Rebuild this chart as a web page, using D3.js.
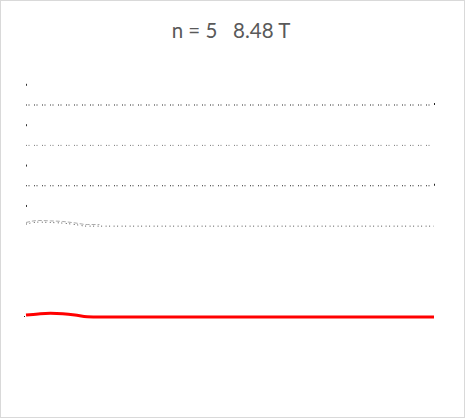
<!DOCTYPE html>
<html><head><meta charset="utf-8">
<script src="https://cdn.jsdelivr.net/npm/d3@7"></script>
<style>html,body{margin:0;padding:0;background:#fff}svg{display:block}</style>
</head><body>
<script>
// ---- data ----
const titleText = "n = 5   8.48 T";
const xValues = [0, 3, 6, 9, 12, 15, 18, 21, 24, 30, 40, 50, 60, 70, 80, 90, 100];
const redValues = [0.10, 0.15, 0.18, 0.16, 0.10, 0.01, 0, 0, 0, 0, 0, 0, 0, 0, 0, 0, 0];
const greyValues = [4.60, 4.70, 4.68, 4.65, 4.58, 4.50, 4.50, 4.50, 4.50, 4.50, 4.50, 4.50, 4.50, 4.50, 4.50, 4.50, 4.50];
const dottedLevels = [6.5, 8.5, 10.5];
const dottedColors = ["#222", "#777", "#222"];
const singleMarks = [5.5, 7.5, 9.5, 11.5];
const endMarks = [6.5, 10.5];

const W = 465, H = 418;
const svg = d3.select("body").append("svg").attr("width", W).attr("height", H);
svg.append("rect").attr("x", 0.5).attr("y", 0.5).attr("width", W - 1).attr("height", H - 1)
  .attr("fill", "#fff").attr("stroke", "#d9d9d9");

svg.append("text").attr("x", 231).attr("y", 38).attr("text-anchor", "middle")
  .style("white-space", "pre").attr("font-family", "Lato, 'Open Sans', sans-serif")
  .attr("font-size", 20.5).attr("fill", "#595959").text(titleText);

const x = d3.scaleLinear().domain([0, 100]).range([26, 434]);
const y = d3.scaleLinear().domain([0, 10.5]).range([317, 105]);

const line = d3.line().x(d => x(d[0])).y(d => y(d[1])).curve(d3.curveMonotoneX);

// dotted horizontal series
dottedLevels.forEach((v, i) => {
  svg.append("path").attr("d", line(xValues.map(xv => [xv, v])))
    .attr("fill", "none").attr("stroke", dottedColors[i]).attr("stroke-width", 1)
    .attr("stroke-dasharray", "1,1.5,1,4.5");
});

// grey dashed series
svg.append("path").attr("d", line(xValues.map((xv, i) => [xv, greyValues[i]])))
  .attr("fill", "none").attr("stroke", "#555").attr("stroke-width", 1)
  .attr("stroke-dasharray", "1,2.5,1,3.5");
svg.append("path").attr("d", line(xValues.slice(0, 7).map((xv, i) => [xv, greyValues[i] + 0.08])))
  .attr("fill", "none").attr("stroke", "#aaa").attr("stroke-width", 1)
  .attr("stroke-dasharray", "4,2");

// single markers at start
singleMarks.forEach(v => {
  svg.append("rect").attr("x", x(0)).attr("y", y(v) - 1).attr("width", 1).attr("height", 2).attr("fill", "#333");
});
// end markers
endMarks.forEach(v => {
  svg.append("rect").attr("x", x(100)).attr("y", y(v) - 2).attr("width", 1).attr("height", 2).attr("fill", "#222");
});
// small black point at red start
svg.append("rect").attr("x", x(0) - 2).attr("y", y(0) - 1).attr("width", 1).attr("height", 1).attr("fill", "#222");

// red series
svg.append("path").attr("d", line(xValues.map((xv, i) => [xv, redValues[i]])))
  .attr("fill", "none").attr("stroke", "#ff0000").attr("stroke-width", 3)
  .attr("stroke-linecap", "butt");
</script>
</body></html>
